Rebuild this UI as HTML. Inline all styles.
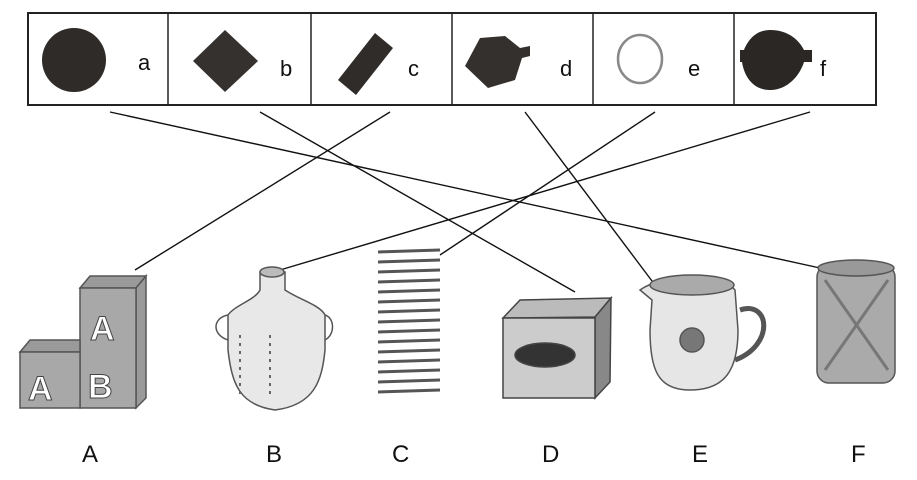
<!DOCTYPE html>
<html><head><meta charset="utf-8"><style>
html,body{margin:0;padding:0;background:#fff;}
svg{display:block;}
text{font-family:"Liberation Sans",sans-serif;}
</style></head><body>
<svg width="917" height="480" viewBox="0 0 917 480" xmlns="http://www.w3.org/2000/svg">
<rect x="0" y="0" width="917" height="480" fill="#fff"/>
<!-- top box -->
<rect x="28" y="13" width="848" height="92" fill="#fff" stroke="#222" stroke-width="2"/>
<g stroke="#222" stroke-width="1.5">
<line x1="168" y1="13" x2="168" y2="105"/><line x1="311" y1="13" x2="311" y2="105"/>
<line x1="452" y1="13" x2="452" y2="105"/><line x1="593" y1="13" x2="593" y2="105"/>
<line x1="734" y1="13" x2="734" y2="105"/>
</g>
<!-- shapes -->
<ellipse cx="74" cy="60" rx="32" ry="32" fill="#2e2b28"/>
<polygon points="225,30 258,61 225,92 193,61" fill="#34312e"/>
<polygon points="375,33 393,48 356,95 338,80" fill="#2f2c29"/>
<path d="M480,38 L505,36 L520,48 L530,46 L530,56 L522,58 L515,80 L488,88 L465,66 Z" fill="#33302d"/>
<ellipse cx="640" cy="59" rx="22" ry="24" fill="none" stroke="#888" stroke-width="2.5"/>
<path d="M770,30 C790,30 800,42 804,50 L812,50 L812,62 L804,62 C800,75 788,90 770,90 C752,90 744,75 742,62 L740,62 L740,50 L744,50 C748,40 756,30 770,30 Z" fill="#2a2724"/>
<g font-size="22" fill="#111">
<text x="138" y="70">a</text><text x="280" y="76">b</text><text x="408" y="76">c</text>
<text x="560" y="76">d</text><text x="688" y="76">e</text><text x="820" y="76">f</text>
</g>
<!-- connectors -->
<g stroke="#111" stroke-width="1.4">
<line x1="110" y1="112" x2="820" y2="268"/>
<line x1="260" y1="112" x2="575" y2="292"/>
<line x1="390" y1="112" x2="135" y2="270"/>
<line x1="525" y1="112" x2="655" y2="285"/>
<line x1="655" y1="112" x2="440" y2="255"/>
<line x1="810" y1="112" x2="280" y2="270"/>
</g>
<!-- A blocks -->
<g stroke="#555" stroke-width="1.5" fill="#9a9a9a">
<polygon points="80,288 90,276 146,276 136,288"/>
<polygon points="136,288 146,276 146,398 136,408"/>
<rect x="80" y="288" width="56" height="120" fill="#a8a8a8"/>
<polygon points="20,352 30,340 80,340 80,352"/>
<rect x="20" y="352" width="60" height="56" fill="#a8a8a8"/>
</g>
<g font-family="Liberation Serif,serif" font-size="34" font-weight="bold" fill="#fff" stroke="#444" stroke-width="1">
<text x="90" y="340" font-family="Liberation Serif,serif">A</text>
<text x="88" y="398" font-family="Liberation Serif,serif">B</text>
<text x="28" y="400" font-family="Liberation Serif,serif">A</text>
</g>
<!-- B bottle -->
<g stroke="#555" stroke-width="1.5" fill="#e8e8e8">
<path d="M260,272 L285,272 L285,290 C300,300 320,305 325,315 L325,350 C322,380 315,405 275,410 C240,405 232,385 228,350 L228,315 C235,305 255,300 260,290 Z"/>
<ellipse cx="272" cy="272" rx="12" ry="5" fill="#bbb"/>
<path d="M228,315 C212,318 212,335 228,340 M325,315 C335,318 335,335 325,340" fill="none"/>
</g>
<g stroke="#666" stroke-width="2">
<line x1="240" y1="335" x2="240" y2="395" stroke-dasharray="3,5"/>
<line x1="270" y1="335" x2="270" y2="395" stroke-dasharray="3,5"/>
</g>
<!-- C spring -->
<g stroke="#555" stroke-width="3">
<line x1="378" y1="252" x2="440" y2="250"/><line x1="378" y1="262" x2="440" y2="260"/>
<line x1="378" y1="272" x2="440" y2="270"/><line x1="378" y1="282" x2="440" y2="280"/>
<line x1="378" y1="292" x2="440" y2="290"/><line x1="378" y1="302" x2="440" y2="300"/>
<line x1="378" y1="312" x2="440" y2="310"/><line x1="378" y1="322" x2="440" y2="320"/>
<line x1="378" y1="332" x2="440" y2="330"/><line x1="378" y1="342" x2="440" y2="340"/>
<line x1="378" y1="352" x2="440" y2="350"/><line x1="378" y1="362" x2="440" y2="360"/>
<line x1="378" y1="372" x2="440" y2="370"/><line x1="378" y1="382" x2="440" y2="380"/>
<line x1="378" y1="392" x2="440" y2="390"/>
</g>
<!-- D box -->
<g stroke="#444" stroke-width="1.5">
<polygon points="503,318 520,300 611,298 595,317" fill="#bbb"/>
<polygon points="595,317 611,298 610,382 595,398" fill="#888"/>
<rect x="503" y="318" width="92" height="80" fill="#ccc"/>
<ellipse cx="545" cy="355" rx="30" ry="12" fill="#333"/>
</g>
<!-- E pitcher -->
<g stroke="#555" stroke-width="1.5" fill="#e6e6e6">
<path d="M740,310 C770,300 775,345 735,360" fill="none" stroke-width="5"/>
<path d="M640,290 C660,275 720,272 735,290 L738,330 C738,370 725,390 690,390 C658,390 650,370 650,330 L652,300 Z"/>
<ellipse cx="692" cy="285" rx="42" ry="10" fill="#aaa"/>
<circle cx="692" cy="340" r="12" fill="#777"/>
</g>
<!-- F cylinder -->
<g stroke="#555" stroke-width="1.5">
<rect x="817" y="265" width="78" height="118" rx="12" fill="#aaa"/>
<ellipse cx="856" cy="268" rx="38" ry="8" fill="#999"/>
<path d="M825,280 L888,370 M888,280 L825,370" stroke="#777" stroke-width="3"/>
</g>
<!-- labels -->
<g font-size="24" fill="#111">
<text x="82" y="462">A</text><text x="266" y="462">B</text><text x="392" y="462">C</text>
<text x="542" y="462">D</text><text x="692" y="462">E</text><text x="851" y="462">F</text>
</g>
</svg>
</body></html>
